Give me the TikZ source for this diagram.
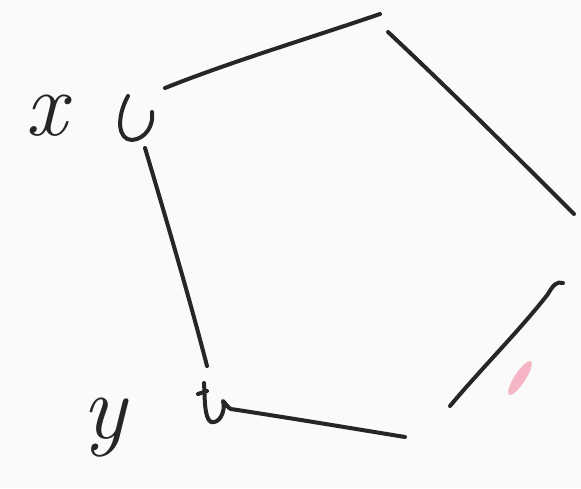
\documentclass[tikz,border=0pt]{standalone}
\usepackage{fontspec}
\usepackage{xcolor}
\definecolor{ink}{HTML}{262626}
\definecolor{bg}{HTML}{FAFAFA}
\definecolor{pinkmark}{HTML}{F6B5C4}
\begin{document}
\begin{tikzpicture}[x=1pt,y=-1pt,
  stroke/.style={draw=ink,line width=4pt,line cap=round,line join=round},
  lbl/.style={text=ink,inner sep=0pt,font=\fontsize{92}{92}\selectfont\itshape}]
\fill[bg] (0,0) rectangle (581,488);
\useasboundingbox (0,0) rectangle (581,488);
% vertex marks
\coordinate (xa) at (128,96);
\coordinate (ya) at (204,383);
\draw[stroke] (xa) .. controls (116,118) and (118,140) .. (132,140)
  .. controls (145,139) and (154,126) .. (152,112);
\draw[stroke] (198,394) -- (207,391);
\draw[stroke] (ya) .. controls (205,398) and (204,418) .. (211,422)
  .. controls (219,424) and (226,412) .. (223,401)
  .. controls (226,404) and (228,408) .. (231,409);
% labels
\node[lbl] (lx) at (46,116) {x};
\node[lbl] (ly) at (104,428) {y};
% edge endpoints
\coordinate (e1a) at (165,88);
\coordinate (e1b) at (380,14);
\coordinate (e2a) at (388,32);
\coordinate (e2b) at (574,214);
\coordinate (e3a) at (563,283);
\coordinate (e3b) at (450,406);
\coordinate (e4a) at (231,409);
\coordinate (e4b) at (405,437);
\coordinate (e5a) at (145,148);
\coordinate (e5b) at (207,366);
% edges
\draw[stroke] (e1a) .. controls (230,62) and (310,38) .. (e1b);
\draw[stroke] (e2a) .. controls (450,90) and (520,160) .. (e2b);
\draw[stroke] (e3a) .. controls (557,281) and (553,285) .. (548,294)
  .. controls (520,330) and (480,370) .. (e3b);
\draw[stroke] (e4a) .. controls (290,418) and (350,428) .. (e4b);
\draw[stroke] (e5a) .. controls (165,215) and (190,300) .. (e5b);
% pink mark
\begin{scope}[shift={(520,378)}]
\fill[pinkmark,rotate=57] (0,0) ellipse [x radius=20pt,y radius=5.5pt];
\end{scope}
\end{tikzpicture}
\end{document}
